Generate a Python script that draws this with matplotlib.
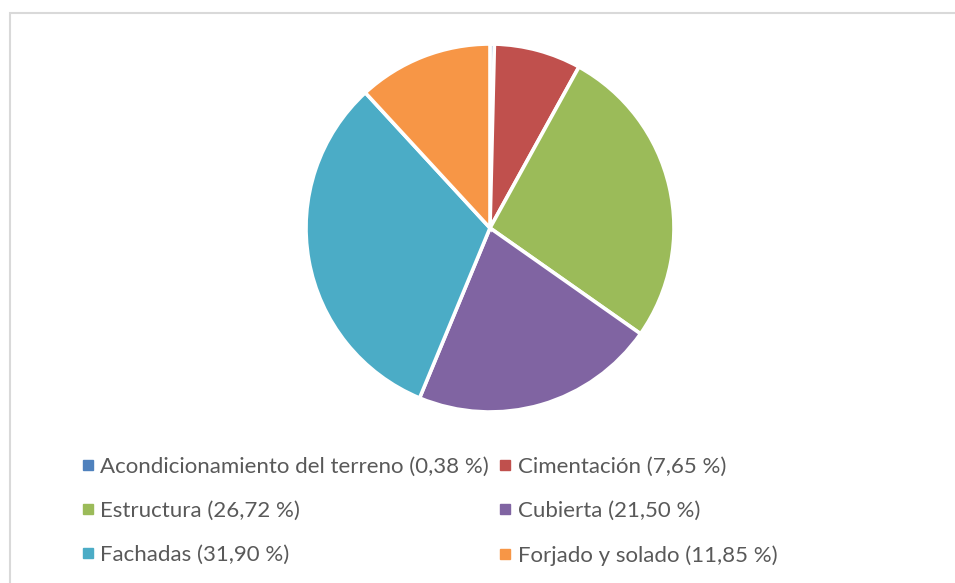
import matplotlib
matplotlib.use("Agg")
import matplotlib.pyplot as plt
from matplotlib.lines import Line2D
from matplotlib.patches import Rectangle

# Cost breakdown by building chapter (percent)
labels = [
    "Acondicionamiento del terreno",
    "Cimentación",
    "Estructura",
    "Cubierta",
    "Fachadas",
    "Forjado y solado",
]
values = [0.38, 7.65, 26.72, 21.50, 31.90, 11.85]
colors = ["#4F81BD", "#C0504D", "#9BBB59", "#8064A2", "#4BACC6", "#F79646"]

W, H = 955, 583
fig = plt.figure(figsize=(W / 100, H / 100), dpi=100)
fig.patch.set_facecolor("white")

# light frame around the chart area
fig.patches.append(Rectangle((10 / W, -0.05), 1.05, (H - 13) / H + 0.05,
                             transform=fig.transFigure, fill=False,
                             edgecolor="#D9D9D9", linewidth=1.5))

cx, cy, r = 490, 228, 184
ax = fig.add_axes([(cx - r) / W, (H - cy - r) / H, 2 * r / W, 2 * r / H])
wedges, _ = ax.pie(values, colors=colors, startangle=90, counterclock=False,
                   radius=1.0,
                   wedgeprops=dict(edgecolor="white", linewidth=2.6))
ax.set_xlim(-1, 1)
ax.set_ylim(-1, 1)
ax.set_aspect("equal")
ax.axis("off")

# two-column legend, filled row by row
order = [0, 2, 4, 1, 3, 5]
handles = [Line2D([], [], linestyle="none", marker="s", markersize=6.5,
                  markerfacecolor=colors[i], markeredgecolor=colors[i])
           for i in order]
texts = [f"{labels[i]} ({values[i]:.2f} %)".replace(".", ",") for i in order]

leg = fig.legend(handles, texts, ncol=2, loc="upper left",
                 bbox_to_anchor=(71 / W, 1 - 446 / H),
                 frameon=False, prop={"family": "Lato", "size": 16},
                 labelcolor="#595959", handlelength=0.5, handletextpad=0.3,
                 labelspacing=1.08, columnspacing=0.5, borderpad=0)

fig.savefig("out.png", dpi=100, facecolor="white")
